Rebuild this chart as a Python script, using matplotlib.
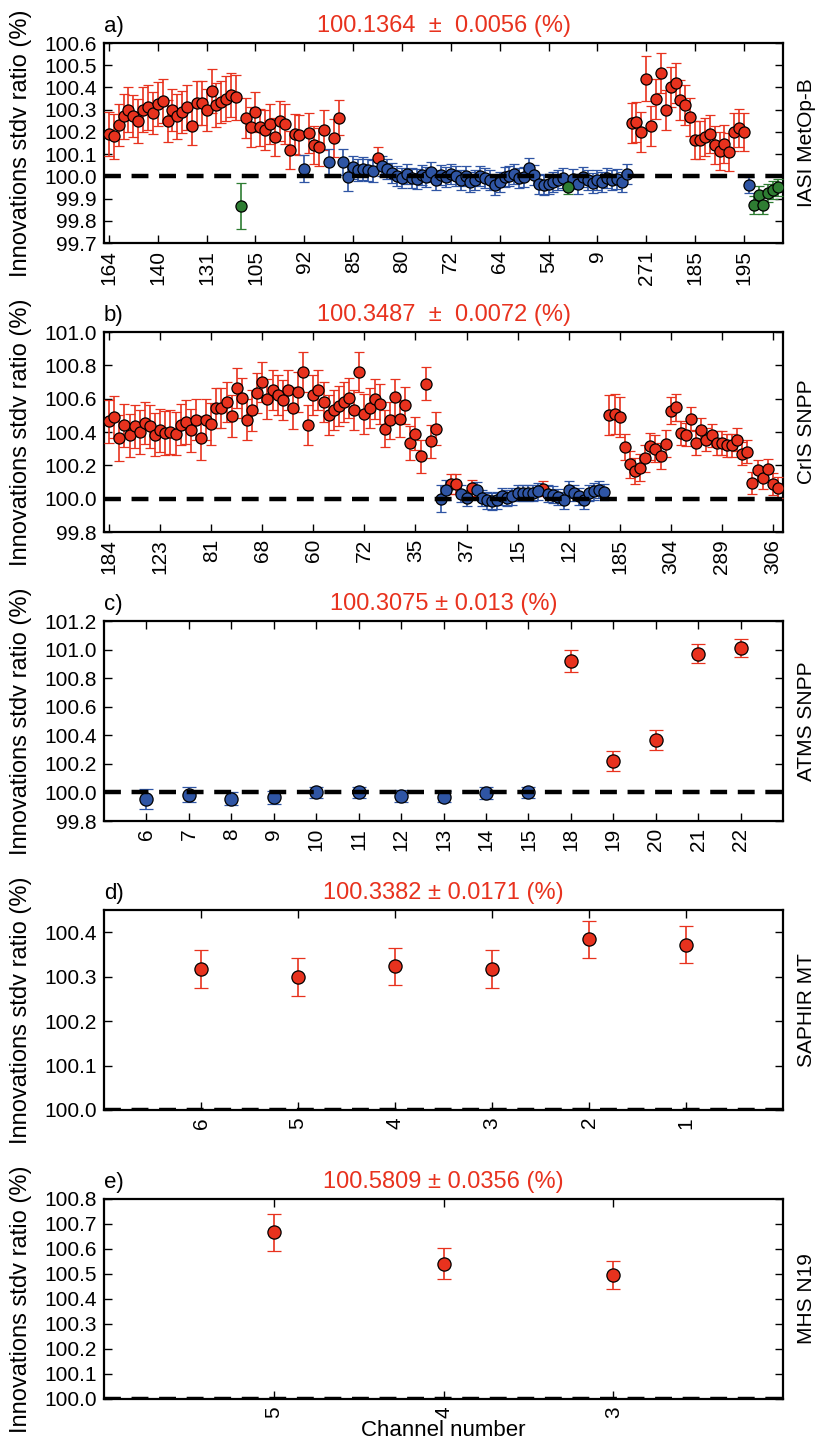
import numpy as np
import matplotlib
matplotlib.use("Agg")
from matplotlib import pyplot as plt

plt.rcParams['font.family'] = ['Liberation Sans', 'DejaVu Sans']

RED = '#e8321e'
BLUE = '#2f55a4'
GREEN = '#2e7d32'
COLORS = {'r': RED, 'b': BLUE, 'g': GREEN}

# a) IASI MetOp-B
iasi_ticklabels = ['164', '140', '131', '105', '92', '85', '80', '72', '64', '54',
                   '9', '271', '185', '195']
iasi_vals = [
    100.19, 100.18, 100.23, 100.27, 100.30, 100.27, 100.25, 100.30, 100.31, 100.285,
    100.325, 100.34, 100.25, 100.30, 100.27, 100.29, 100.31, 100.225, 100.33, 100.33,
    100.30, 100.385, 100.32, 100.335, 100.35, 100.365, 100.355, 99.867, 100.264, 100.22,
    100.29, 100.22, 100.207, 100.237, 100.177, 100.25, 100.237, 100.117, 100.19, 100.187,
    100.035, 100.196, 100.14, 100.132, 100.207, 100.065, 100.174, 100.264, 100.065, 99.997,
    100.04, 100.027, 100.035, 100.027, 100.024, 100.084, 100.045, 100.035, 100.015, 100.0,
    99.994, 100.012, 99.994, 99.99, 100.005, 99.997, 100.02, 99.985, 100.004, 99.997,
    100.012, 100.0, 99.985, 100.0, 99.975, 99.985, 100.0, 99.994, 99.982, 99.96,
    99.975, 99.997, 100.0, 100.012, 99.994, 99.997, 100.037, 100.004, 99.967, 99.96,
    99.964, 99.975, 99.985, 99.994, 99.952, 99.99, 99.964, 99.997, 99.982, 99.97,
    99.982, 99.975, 99.994, 99.982, 99.99, 99.975, 100.012, 100.24, 100.245, 100.2,
    100.44, 100.225, 100.35, 100.467, 100.3, 100.402, 100.42, 100.342, 100.322, 100.267,
    100.165, 100.165, 100.177, 100.192, 100.14, 100.114, 100.144, 100.11, 100.2, 100.217,
    100.2, 99.96, 99.87, 99.915, 99.87, 99.925, 99.94, 99.95,
]
iasi_errs = [
    0.10, 0.10, 0.095, 0.10, 0.10, 0.095, 0.10, 0.10, 0.10, 0.095,
    0.10, 0.10, 0.095, 0.095, 0.10, 0.095, 0.10, 0.085, 0.10, 0.10,
    0.095, 0.10, 0.10, 0.095, 0.10, 0.10, 0.10, 0.105, 0.09, 0.09,
    0.09, 0.085, 0.09, 0.09, 0.085, 0.09, 0.09, 0.085, 0.09, 0.09,
    0.06, 0.09, 0.085, 0.085, 0.09, 0.06, 0.085, 0.08, 0.06, 0.065,
    0.05, 0.05, 0.05, 0.05, 0.05, 0.05, 0.045, 0.045, 0.045, 0.045,
    0.045, 0.045, 0.045, 0.045, 0.045, 0.045, 0.045, 0.045, 0.045, 0.045,
    0.045, 0.045, 0.045, 0.045, 0.045, 0.045, 0.045, 0.045, 0.045, 0.045,
    0.045, 0.045, 0.045, 0.045, 0.045, 0.045, 0.045, 0.045, 0.045, 0.045,
    0.045, 0.045, 0.045, 0.045, 0.03, 0.045, 0.045, 0.045, 0.045, 0.045,
    0.045, 0.045, 0.045, 0.045, 0.045, 0.045, 0.045, 0.09, 0.09, 0.09,
    0.10, 0.09, 0.09, 0.09, 0.09, 0.09, 0.09, 0.09, 0.09, 0.085,
    0.085, 0.085, 0.085, 0.085, 0.085, 0.085, 0.085, 0.085, 0.085, 0.085,
    0.085, 0.035, 0.04, 0.04, 0.04, 0.04, 0.04, 0.04,
]
iasi_cls = ("rrrrrrrrrr" "rrrrrrrrrr" "rrrrrrrgrr" "rrrrrrrrrr" "brrrrbrrbb"
            "bbbbbrbbbb" "bbbbbbbbbb" "bbbbbbbbbb" "bbbbbbbbbb" "bbbbgbbbbb"
            "bbbbbbbrrr" "rrrrrrrrrr" "rrrrrrrrrr" "rbgggggg")

# b) CrIS SNPP
cris_ticklabels = ['184', '123', '81', '68', '60', '72', '35', '37', '15', '12',
                   '185', '304', '289', '306']
cris_vals = [
    100.465, 100.49, 100.365, 100.44, 100.38, 100.435, 100.40, 100.455, 100.435, 100.385,
    100.41, 100.395, 100.40, 100.39, 100.445, 100.46, 100.41, 100.475, 100.365, 100.475,
    100.45, 100.545, 100.545, 100.58, 100.495, 100.665, 100.605, 100.475, 100.53, 100.635,
    100.70, 100.60, 100.65, 100.62, 100.59, 100.655, 100.545, 100.64, 100.76, 100.445,
    100.62, 100.655, 100.58, 100.505, 100.535, 100.555, 100.58, 100.605, 100.535, 100.76,
    100.51, 100.545, 100.60, 100.57, 100.42, 100.47, 100.61, 100.48, 100.56, 100.335,
    100.39, 100.255, 100.69, 100.345, 100.42, 100.00, 100.055, 100.09, 100.09, 100.03,
    100.005, 100.065, 100.05, 100.005, 99.99, 99.985, 99.99, 100.015, 100.005, 100.015,
    100.035, 100.035, 100.035, 100.035, 100.045, 100.06, 100.03, 100.025, 100.01, 99.99,
    100.055, 100.035, 100.015, 99.99, 100.035, 100.045, 100.055, 100.04, 100.50, 100.508,
    100.489, 100.31, 100.206, 100.166, 100.186, 100.242, 100.315, 100.30, 100.256, 100.33,
    100.528, 100.548, 100.395, 100.385, 100.48, 100.335, 100.415, 100.355, 100.38, 100.335,
    100.335, 100.32, 100.32, 100.355, 100.27, 100.282, 100.096, 100.17, 100.126, 100.176,
    100.09, 100.067,
]
cris_errs = [
    0.13, 0.125, 0.14, 0.13, 0.13, 0.13, 0.13, 0.125, 0.13, 0.13,
    0.13, 0.13, 0.13, 0.13, 0.125, 0.13, 0.13, 0.125, 0.13, 0.125,
    0.125, 0.12, 0.12, 0.12, 0.125, 0.12, 0.12, 0.125, 0.125, 0.12,
    0.12, 0.12, 0.12, 0.12, 0.12, 0.12, 0.125, 0.12, 0.12, 0.12,
    0.12, 0.12, 0.12, 0.12, 0.12, 0.12, 0.12, 0.12, 0.12, 0.12,
    0.12, 0.12, 0.12, 0.12, 0.11, 0.11, 0.11, 0.11, 0.11, 0.10,
    0.10, 0.10, 0.10, 0.10, 0.10, 0.08, 0.06, 0.06, 0.06, 0.05,
    0.05, 0.05, 0.05, 0.05, 0.05, 0.05, 0.05, 0.05, 0.05, 0.05,
    0.05, 0.05, 0.05, 0.05, 0.05, 0.045, 0.05, 0.05, 0.05, 0.05,
    0.05, 0.05, 0.05, 0.05, 0.05, 0.05, 0.05, 0.05, 0.12, 0.12,
    0.12, 0.08, 0.08, 0.08, 0.08, 0.08, 0.08, 0.08, 0.08, 0.08,
    0.08, 0.08, 0.07, 0.07, 0.07, 0.07, 0.07, 0.07, 0.07, 0.07,
    0.07, 0.07, 0.07, 0.07, 0.07, 0.07, 0.065, 0.065, 0.065, 0.065,
    0.065, 0.065,
]
cris_cls = ("rrrrrrrrrr" "rrrrrrrrrr" "rrrrrrrrrr" "rrrrrrrrrr" "rrrrrrrrrr"
            "rrrrrrrrrr" "rrrrrbbrrb" "brbbbbbbbb" "bbbbbrbbbb" "bbbbbbbbrr"
            "rrrrrrrrrr" "rrrrrrrrrr" "rrrrrrrrrr" "rr")

# c) ATMS SNPP
atms_ticklabels = ['6', '7', '8', '9', '10', '11', '12', '13', '14', '15',
                   '18', '19', '20', '21', '22']
atms_vals = [99.956, 99.985, 99.955, 99.965, 100.0, 100.0, 99.975, 99.97, 99.995, 100.0,
             100.92, 100.221, 100.367, 100.971, 101.012]
atms_errs = [0.07, 0.05, 0.045, 0.045, 0.04, 0.04, 0.04, 0.04, 0.04, 0.04,
             0.074, 0.068, 0.068, 0.065, 0.065]
atms_cls = "bbbbbbbbbbrrrrr"

# d) SAPHIR MT
saphir_ticklabels = ['6', '5', '4', '3', '2', '1']
saphir_vals = [100.317, 100.299, 100.323, 100.317, 100.384, 100.372]
saphir_errs = [0.042, 0.042, 0.042, 0.042, 0.042, 0.042]
saphir_cls = "rrrrrr"

# e) MHS N19
mhs_ticklabels = ['5', '4', '3']
mhs_vals = [100.666, 100.541, 100.496]
mhs_errs = [0.075, 0.062, 0.055]
mhs_cls = "rrr"


def draw_panel(ax, vals, errs, cls, ticklabels, step, ylim, yticks,
               letter, title, instrument, ms, cap):
    x = np.arange(len(vals))
    vals = np.array(vals)
    errs = np.array(errs)
    cls = np.array(list(cls))
    for c in ['r', 'b', 'g']:
        m = cls == c
        if not m.any():
            continue
        ax.errorbar(x[m], vals[m], yerr=errs[m], fmt='o', color=COLORS[c],
                    mfc=COLORS[c], mec='k', mew=0.9, ms=ms, capsize=cap,
                    elinewidth=1.2, capthick=1.2, zorder=3)
    # reference line at 100 %
    ax.axhline(100.0, color='k', lw=3.2, dashes=(3.8, 2.4), zorder=5)

    ax.set_xlim(-1, len(vals))
    ax.set_ylim(*ylim)
    ax.set_yticks(yticks)
    ax.set_yticklabels(['%.1f' % t for t in yticks])
    ax.set_xticks(x[::step][:len(ticklabels)])
    ax.set_xticklabels(ticklabels, rotation=90)

    ax.tick_params(direction='in', top=True, right=True, length=6, width=1,
                   labelsize=15, pad=5)
    for s in ax.spines.values():
        s.set_linewidth(1.6)

    ax.set_ylabel('Innovations stdv ratio (%)', fontsize=17)
    ax.yaxis.set_label_coords(-0.106, 0.5)
    ax.set_title(title, color=RED, fontsize=17, pad=8)
    ax.text(0.0, 1.03, letter, transform=ax.transAxes, ha='left', va='bottom',
            fontsize=16)
    ax.text(1.02, 0.5, instrument, transform=ax.transAxes, ha='left',
            va='center', rotation=90, fontsize=15)


fig = plt.figure(figsize=(8.16, 14.43), dpi=100)
left, width, height = 0.1275, 0.8321, 0.1386
bottoms = [0.8316, 0.6313, 0.4310, 0.2308, 0.0305]
axes = [fig.add_axes([left, b, width, height]) for b in bottoms]

draw_panel(axes[0], iasi_vals, iasi_errs, iasi_cls, iasi_ticklabels, 10,
           (99.7, 100.6), np.arange(99.7, 100.61, 0.1), 'a)',
           '100.1364  ±  0.0056 (%)', 'IASI MetOp-B', 8, 3.5)
draw_panel(axes[1], cris_vals, cris_errs, cris_cls, cris_ticklabels, 10,
           (99.8, 101.0), np.arange(99.8, 101.01, 0.2), 'b)',
           '100.3487  ±  0.0072 (%)', 'CrIS SNPP', 8, 3.5)
draw_panel(axes[2], atms_vals, atms_errs, atms_cls, atms_ticklabels, 1,
           (99.8, 101.2), np.arange(99.8, 101.21, 0.2), 'c)',
           '100.3075 ± 0.013 (%)', 'ATMS SNPP', 9.5, 5)
draw_panel(axes[3], saphir_vals, saphir_errs, saphir_cls, saphir_ticklabels, 1,
           (100.0, 100.45), np.arange(100.0, 100.41, 0.1), 'd)',
           '100.3382 ± 0.0171 (%)', 'SAPHIR MT', 9.5, 5)
draw_panel(axes[4], mhs_vals, mhs_errs, mhs_cls, mhs_ticklabels, 1,
           (100.0, 100.8), np.arange(100.0, 100.81, 0.1), 'e)',
           '100.5809 ± 0.0356 (%)', 'MHS N19', 9.5, 5)
axes[4].set_xlabel('Channel number', fontsize=16, labelpad=2)

fig.savefig('out.png', dpi=100)
